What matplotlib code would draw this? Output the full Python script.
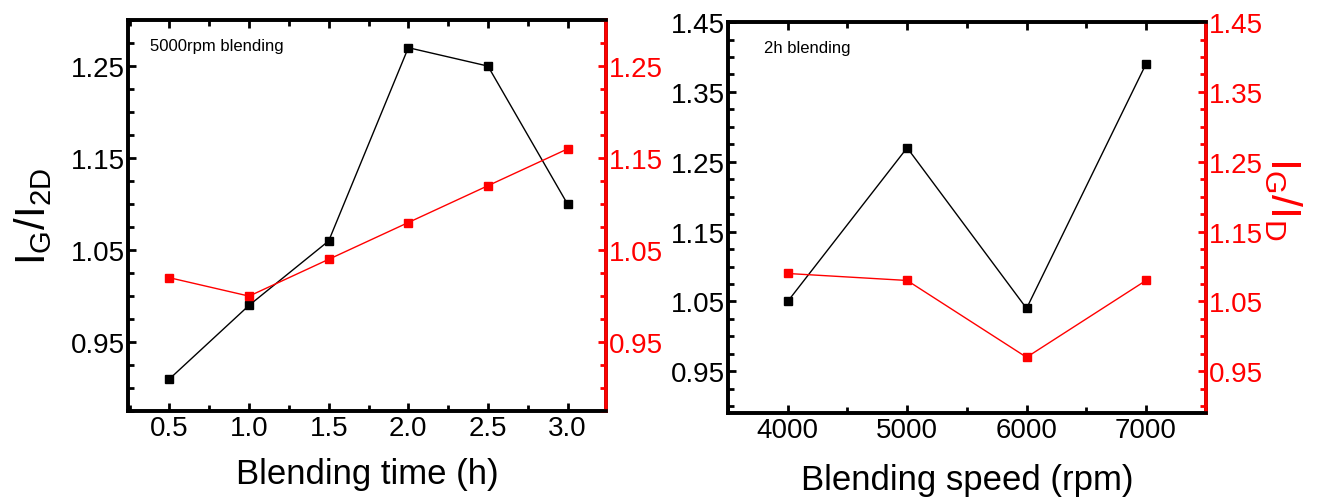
import matplotlib
matplotlib.use('Agg')
import matplotlib.pyplot as plt
from matplotlib.ticker import MultipleLocator
import warnings
warnings.filterwarnings('ignore')

plt.rcParams['font.family'] = ['Liberation Sans', 'DejaVu Sans']
plt.rcParams['mathtext.fontset'] = 'custom'
plt.rcParams['mathtext.rm'] = 'Liberation Sans'
plt.rcParams['mathtext.it'] = 'Liberation Sans'

# left panel: blending time at 5000 rpm
time_h = [0.5, 1.0, 1.5, 2.0, 2.5, 3.0]
time_ig_i2d = [0.91, 0.99, 1.06, 1.27, 1.25, 1.10]
time_ig_id = [1.02, 1.00, 1.04, 1.08, 1.12, 1.16]
time_xticks = [0.5, 1.0, 1.5, 2.0, 2.5, 3.0]
time_yticks = [0.95, 1.05, 1.15, 1.25]

# right panel: blending speed for 2 h
speed_rpm = [4000, 5000, 6000, 7000]
speed_ig_i2d = [1.05, 1.27, 1.04, 1.39]
speed_ig_id = [1.09, 1.08, 0.97, 1.08]
speed_xticks = [4000, 5000, 6000, 7000]
speed_yticks = [0.95, 1.05, 1.15, 1.25, 1.35, 1.45]

RED = '#ff0000'
fig = plt.figure(figsize=(13.27, 5.02), dpi=100, facecolor='white')


def style_axes(ax, ax2, xticks, xminor, yticks, ylim):
    ax.set_xticks(xticks)
    ax.xaxis.set_minor_locator(MultipleLocator(xminor))
    for a in (ax, ax2):
        a.set_ylim(*ylim)
        a.set_yticks(yticks)
        a.set_yticklabels([f'{v:.2f}' for v in yticks])
        a.yaxis.set_minor_locator(MultipleLocator(0.025))
    ax.tick_params(which='both', direction='in', top=True, width=2,
                   labelsize=20, pad=3, color='black')
    ax.tick_params(axis='y', pad=2)
    ax.tick_params(which='major', length=6)
    ax.tick_params(which='minor', length=4)
    ax2.tick_params(which='both', direction='in', width=2, labelsize=20,
                    pad=2, color=RED, labelcolor=RED)
    ax2.tick_params(which='major', length=6)
    ax2.tick_params(which='minor', length=4)
    for s in ax.spines.values():
        s.set_linewidth(2.6)
    for s in ax2.spines.values():
        s.set_linewidth(2.6)
    ax2.spines['right'].set_color(RED)


# ---- left panel
ax = fig.add_axes([0.0965, 0.179, 0.360, 0.779])
ax2 = ax.twinx()
ax.plot(time_h, time_ig_i2d, '-s', color='black', lw=1, ms=6)
ax2.plot(time_h, time_ig_id, '-s', color=RED, lw=1, ms=6)
ax.set_xlim(0.24, 3.24)
style_axes(ax, ax2, time_xticks, 0.25, time_yticks, (0.875, 1.30))
ax.set_xlabel('Blending time (h)', fontsize=25, labelpad=11)
ax.set_ylabel(r'$\mathregular{I_G/I_{2D}}$', fontsize=30, labelpad=12)
ax.text(0.045, 0.935, '5000rpm blending', transform=ax.transAxes,
        fontsize=12, va='center', ha='left')

# ---- right panel
bx = fig.add_axes([0.5486, 0.175, 0.360, 0.779])
bx2 = bx.twinx()
bx.plot(speed_rpm, speed_ig_i2d, '-s', color='black', lw=1, ms=6)
bx2.plot(speed_rpm, speed_ig_id, '-s', color=RED, lw=1, ms=6)
bx.set_xlim(3500, 7500)
style_axes(bx, bx2, speed_xticks, 500, speed_yticks, (0.89, 1.45))
bx.set_xlabel('Blending speed (rpm)', fontsize=25, labelpad=14)
bx2.set_ylabel(r'$\mathregular{I_G/I_D}$', fontsize=31, color=RED,
               rotation=270, labelpad=30)
bx2.yaxis.label.set_y(0.55)
bx.text(0.075, 0.935, '2h blending', transform=bx.transAxes,
        fontsize=12, va='center', ha='left')

fig.savefig('out.png', dpi=100, facecolor='white')
